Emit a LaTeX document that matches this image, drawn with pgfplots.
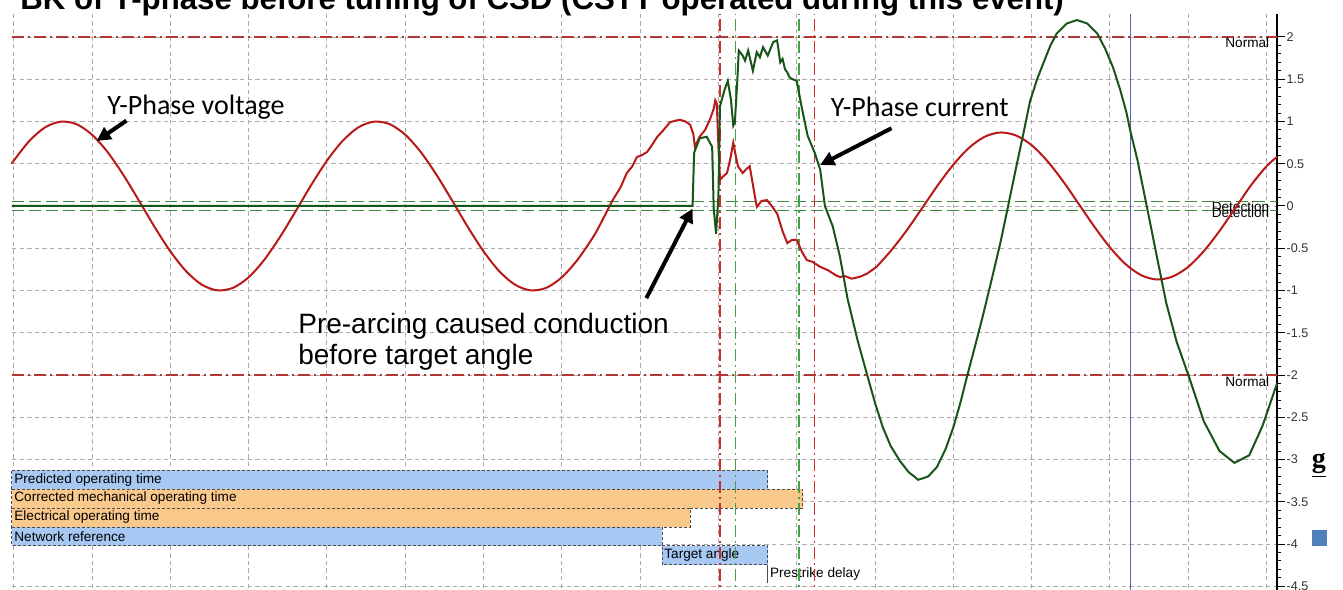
\documentclass[border=0pt]{standalone}
\usepackage{pgfplots}
\pgfplotsset{compat=1.18}
\usepackage{fontspec}
\setmainfont{Liberation Sans}
\newfontfamily\calibri{Carlito}
\newfontfamily\serif{Liberation Serif}
\usetikzlibrary{arrows.meta}

\definecolor{volt}{RGB}{185,25,25}
\definecolor{curr}{RGB}{25,85,25}
\definecolor{refred}{RGB}{175,55,55}
\definecolor{refgreen}{RGB}{60,140,60}
\definecolor{vred}{RGB}{205,45,45}
\definecolor{vgreen}{RGB}{70,160,70}
\definecolor{vblue}{RGB}{95,95,175}
\definecolor{barblue}{RGB}{166,200,242}
\definecolor{barorange}{RGB}{249,201,140}
\definecolor{sqblue}{RGB}{79,129,189}

\newcommand\lblfont{\fontsize{6.8}{8}\selectfont}

\begin{document}
\begin{tikzpicture}
\begin{axis}[
  x=39.15pt, y=42.25pt,
  xmin=-0.022, xmax=16.134, ymin=-4.7, ymax=2.27,
  axis y line*=right, axis x line*=bottom,
  x axis line style={draw=none},
  y axis line style={line width=1.3pt, black},
  xtick={0,...,16}, xticklabels={},
  xtick style={/pgfplots/major tick length=0pt},
  ytick={-4.5,-4,...,2}, minor y tick num=4,
  tick align=outside,
  major tick length=4pt, minor tick length=2pt,
  ytick style={black, line width=0.5pt},
  yticklabel style={font=\fontsize{6.3}{7}\selectfont, text=black!80, inner sep=0.6pt},
  /pgf/number format/assume math mode=true,
  xmajorgrids, ymajorgrids,
  major grid style={gray!65, line width=0.45pt, dash pattern=on 2.2pt off 1.6pt},
  clip=false,
]
% bars of the timing chart
\addplot[draw=black!70, dash pattern=on 1.5pt off 1pt, line width=0.5pt, fill=barblue]
  coordinates {(-0.022,-3.13) (9.63,-3.13) (9.63,-3.35) (-0.022,-3.35)} -- cycle;
\addplot[draw=black!70, dash pattern=on 1.5pt off 1pt, line width=0.5pt, fill=barorange]
  coordinates {(-0.022,-3.35) (10.08,-3.35) (10.08,-3.575) (-0.022,-3.575)} -- cycle;
\addplot[draw=black!70, dash pattern=on 1.5pt off 1pt, line width=0.5pt, fill=barorange]
  coordinates {(-0.022,-3.575) (8.64,-3.575) (8.64,-3.80) (-0.022,-3.80)} -- cycle;
\addplot[draw=black!70, dash pattern=on 1.5pt off 1pt, line width=0.5pt, fill=barblue]
  coordinates {(-0.022,-3.80) (8.28,-3.80) (8.28,-4.02) (-0.022,-4.02)} -- cycle;
\addplot[draw=black!70, dash pattern=on 1.5pt off 1pt, line width=0.5pt, fill=barblue]
  coordinates {(8.28,-4.02) (9.63,-4.02) (9.63,-4.245) (8.28,-4.245)} -- cycle;
\addplot[black!70, line width=0.5pt] coordinates {(9.63,-4.245) (9.63,-4.465)};
\node[anchor=west, font=\lblfont, inner sep=1pt] at (axis cs:-0.022,-3.24) {Predicted operating time};
\node[anchor=west, font=\lblfont, inner sep=1pt] at (axis cs:-0.022,-3.46) {Corrected mechanical operating time};
\node[anchor=west, font=\lblfont, inner sep=1pt] at (axis cs:-0.022,-3.685) {Electrical operating time};
\node[anchor=west, font=\lblfont, inner sep=1pt] at (axis cs:-0.022,-3.91) {Network reference};
\node[anchor=west, font=\lblfont, inner sep=1pt] at (axis cs:8.28,-4.13) {Target angle};
\node[anchor=west, font=\lblfont, inner sep=1pt] at (axis cs:9.63,-4.36) {Prestrike delay};

% limits
\addplot[refred, line width=0.6pt, dash pattern=on 6pt off 2pt on 1pt off 2pt] coordinates {(-0.022,2) (16.134,2)};
\addplot[refred, line width=0.6pt, dash pattern=on 6pt off 2pt on 1pt off 2pt] coordinates {(-0.022,-2) (16.134,-2)};
\addplot[refgreen, line width=0.6pt, dash pattern=on 6pt off 2.5pt] coordinates {(-0.022,0.055) (16.134,0.055)};
\addplot[refgreen, line width=0.6pt, dash pattern=on 6pt off 2.5pt] coordinates {(-0.022,-0.055) (16.134,-0.055)};
\node[anchor=base east, font=\lblfont, inner sep=0] at (axis cs:16.04,1.87) {Normal};
\node[anchor=base east, font=\lblfont, inner sep=0] at (axis cs:16.04,-2.14) {Normal};
\node[anchor=base east, font=\lblfont, inner sep=0] at (axis cs:16.04,-0.07) {Detection};
\node[anchor=base east, font=\lblfont, inner sep=0] at (axis cs:16.04,-0.14) {Detection};

% cursors
\addplot[vred, line width=0.6pt, dash pattern=on 6pt off 2pt on 1pt off 2pt] coordinates {(9.02,-4.7) (9.02,2.27)};
\addplot[vred, line width=0.6pt, dash pattern=on 6pt off 2pt on 1pt off 2pt] coordinates {(10.23,-4.7) (10.23,2.27)};
\addplot[vgreen, line width=0.6pt, dash pattern=on 6pt off 2pt on 1pt off 2pt] coordinates {(9.22,-4.7) (9.22,2.27)};
\addplot[vgreen, line width=0.6pt, dash pattern=on 6pt off 2pt on 1pt off 2pt] coordinates {(10.03,-4.7) (10.03,2.27)};
\addplot[vblue, line width=0.7pt] coordinates {(14.26,-4.7) (14.26,2.27)};

% Y-phase voltage
\addplot[volt, line width=1pt, smooth, tension=0.5] coordinates {
(-0.022,0.50) (0,0.536) (0.2,0.770) (0.4,0.930) (0.6,0.998) (0.8,0.969) (1.0,0.844)
(1.2,0.637) (1.4,0.368) (1.6,0.063) (1.8,-0.249) (2.0,-0.536) (2.2,-0.770) (2.4,-0.930)
(2.6,-0.998) (2.8,-0.969) (3.0,-0.844) (3.2,-0.637) (3.4,-0.368) (3.6,-0.063) (3.8,0.249)
(4.0,0.536) (4.2,0.770) (4.4,0.930) (4.6,0.998) (4.8,0.969) (5.0,0.844) (5.2,0.637)
(5.4,0.368) (5.6,0.063) (5.8,-0.249) (6.0,-0.536) (6.2,-0.770) (6.4,-0.930) (6.6,-0.998)
(6.8,-0.969) (7.0,-0.844) (7.2,-0.637) (7.4,-0.368) (7.5,-0.20)
};
\addplot[volt, line width=1pt] coordinates {
(7.5,-0.20) (7.65,0.07) (7.75,0.22) (7.83,0.39) (7.9,0.47) (7.96,0.58) (8.02,0.60)
(8.09,0.64) (8.15,0.72) (8.22,0.82) (8.3,0.90) (8.38,0.99) (8.45,1.01) (8.51,1.02)
(8.58,1.0) (8.64,0.96) (8.68,0.85) (8.70,0.70) (8.76,0.82) (8.83,0.90) (8.89,1.02)
(8.94,1.15) (8.96,1.25) (8.98,1.21) (9.0,0.7) (9.02,0.31) (9.06,0.35) (9.11,0.39)
(9.15,0.55) (9.19,0.75) (9.22,0.6) (9.25,0.47) (9.31,0.39) (9.36,0.44) (9.40,0.47)
(9.45,0.2) (9.49,-0.01) (9.55,0.06) (9.62,0.07) (9.68,0.0) (9.75,-0.09) (9.82,-0.3)
(9.88,-0.44) (9.94,-0.40) (10.00,-0.40) (10.07,-0.55) (10.13,-0.64) (10.2,-0.66)
(10.3,-0.72) (10.4,-0.76) (10.5,-0.82) (10.55,-0.84) (10.62,-0.83) (10.7,-0.86)
(10.8,-0.84) (10.9,-0.80) (11.02,-0.72)
};
\addplot[volt, line width=1pt, smooth, tension=0.5] coordinates {
(11.02,-0.72) (11.2,-0.533) (11.4,-0.295) (11.6,-0.027) (11.8,0.243) (12.0,0.489)
(12.2,0.688) (12.4,0.819) (12.6,0.870) (12.8,0.835) (13.0,0.720) (13.2,0.533)
(13.4,0.295) (13.6,0.027) (13.8,-0.243) (14.0,-0.489) (14.2,-0.688) (14.4,-0.819)
(14.6,-0.870) (14.8,-0.835) (15.0,-0.720) (15.2,-0.533) (15.4,-0.295) (15.6,-0.027)
(15.8,0.243) (16.0,0.47) (16.134,0.58)
};

% Y-phase current
\addplot[curr, line width=1pt] coordinates {
(-0.022,0) (8.67,0) (8.69,0.63) (8.76,0.80) (8.85,0.82) (8.92,0.70) (8.94,-0.03)
(8.97,-0.33) (9.00,0.12) (9.02,1.18) (9.08,1.38) (9.12,1.48) (9.16,1.26) (9.19,0.95)
(9.21,0.99) (9.24,1.46) (9.26,1.84) (9.31,1.78) (9.34,1.72) (9.38,1.84) (9.44,1.60)
(9.49,1.82) (9.53,1.76) (9.57,1.88) (9.63,1.78) (9.70,1.94) (9.75,1.96) (9.79,1.70)
(9.82,1.74) (9.85,1.62) (9.88,1.58) (9.91,1.52) (9.95,1.50) (10.0,1.48) (10.07,1.14)
(10.14,0.83) (10.23,0.63) (10.30,0.43) (10.36,0.0) (10.46,-0.24) (10.55,-0.59)
(10.65,-1.1) (10.78,-1.6) (10.90,-2.0) (11.0,-2.33) (11.10,-2.62) (11.2,-2.84)
(11.32,-3.02) (11.43,-3.15) (11.5,-3.2) (11.55,-3.24) (11.62,-3.22) (11.68,-3.2)
(11.79,-3.09) (11.9,-2.88) (12.0,-2.62) (12.09,-2.33) (12.18,-2.0) (12.28,-1.65)
(12.38,-1.29) (12.49,-0.87) (12.6,-0.44) (12.7,0.0) (12.81,0.49) (12.9,0.88)
(12.98,1.24) (13.07,1.5) (13.15,1.69) (13.24,1.9) (13.32,2.04) (13.45,2.16)
(13.58,2.2) (13.71,2.16) (13.84,2.04) (13.94,1.86) (14.04,1.64) (14.13,1.38)
(14.21,1.11) (14.26,0.89) (14.35,0.55) (14.47,0.0) (14.6,-0.6) (14.72,-1.15)
(14.85,-1.6) (15.02,-2.05) (15.2,-2.55) (15.4,-2.9) (15.59,-3.04) (15.78,-2.95)
(15.95,-2.6) (16.134,-2.1)
};

% annotations
\node[anchor=base west, font=\calibri\fontsize{14}{16}\selectfont, inner sep=0] at (axis cs:1.19,1.077) {Y-Phase voltage};
\node[anchor=base west, font=\calibri\fontsize{14}{16}\selectfont, inner sep=0] at (axis cs:10.43,1.065) {Y-Phase current};
\node[anchor=base west, font=\fontsize{14}{16}\selectfont, inner sep=0] at (axis cs:3.63,-1.503) {Pre-arcing caused conduction};
\node[anchor=base west, font=\fontsize{14}{16}\selectfont, inner sep=0] at (axis cs:3.63,-1.87) {before target angle};
\draw[line width=2pt, -{Triangle[length=7pt,width=7pt]}] (axis cs:1.44,1.01) -- (axis cs:1.06,0.77);
\draw[line width=2pt, -{Triangle[length=7pt,width=7pt]}] (axis cs:11.21,0.92) -- (axis cs:10.30,0.485);
\draw[line width=2pt, -{Triangle[length=7pt,width=7pt]}] (axis cs:8.08,-1.09) -- (axis cs:8.67,-0.03);

\node[anchor=base west, font=\bfseries\fontsize{15.6}{18}\selectfont, inner sep=0] at (axis cs:0.08,2.331)
  {BK of Y-phase before tuning of CSD (CSTT operated during this event)};
\node[font=\serif\bfseries\fontsize{14}{16}\selectfont, inner sep=0] at (axis cs:16.67,-3.07) {\underline{g}};
\fill[sqblue] (axis cs:16.58,-3.83) rectangle (axis cs:16.77,-4.02);

\coordinate (pbl) at (axis cs:-0.175,-4.533);
\coordinate (ptr) at (axis cs:16.977,2.438);
\end{axis}
\pgfresetboundingbox
\path[use as bounding box] (pbl) rectangle (ptr);
\end{tikzpicture}
\end{document}
